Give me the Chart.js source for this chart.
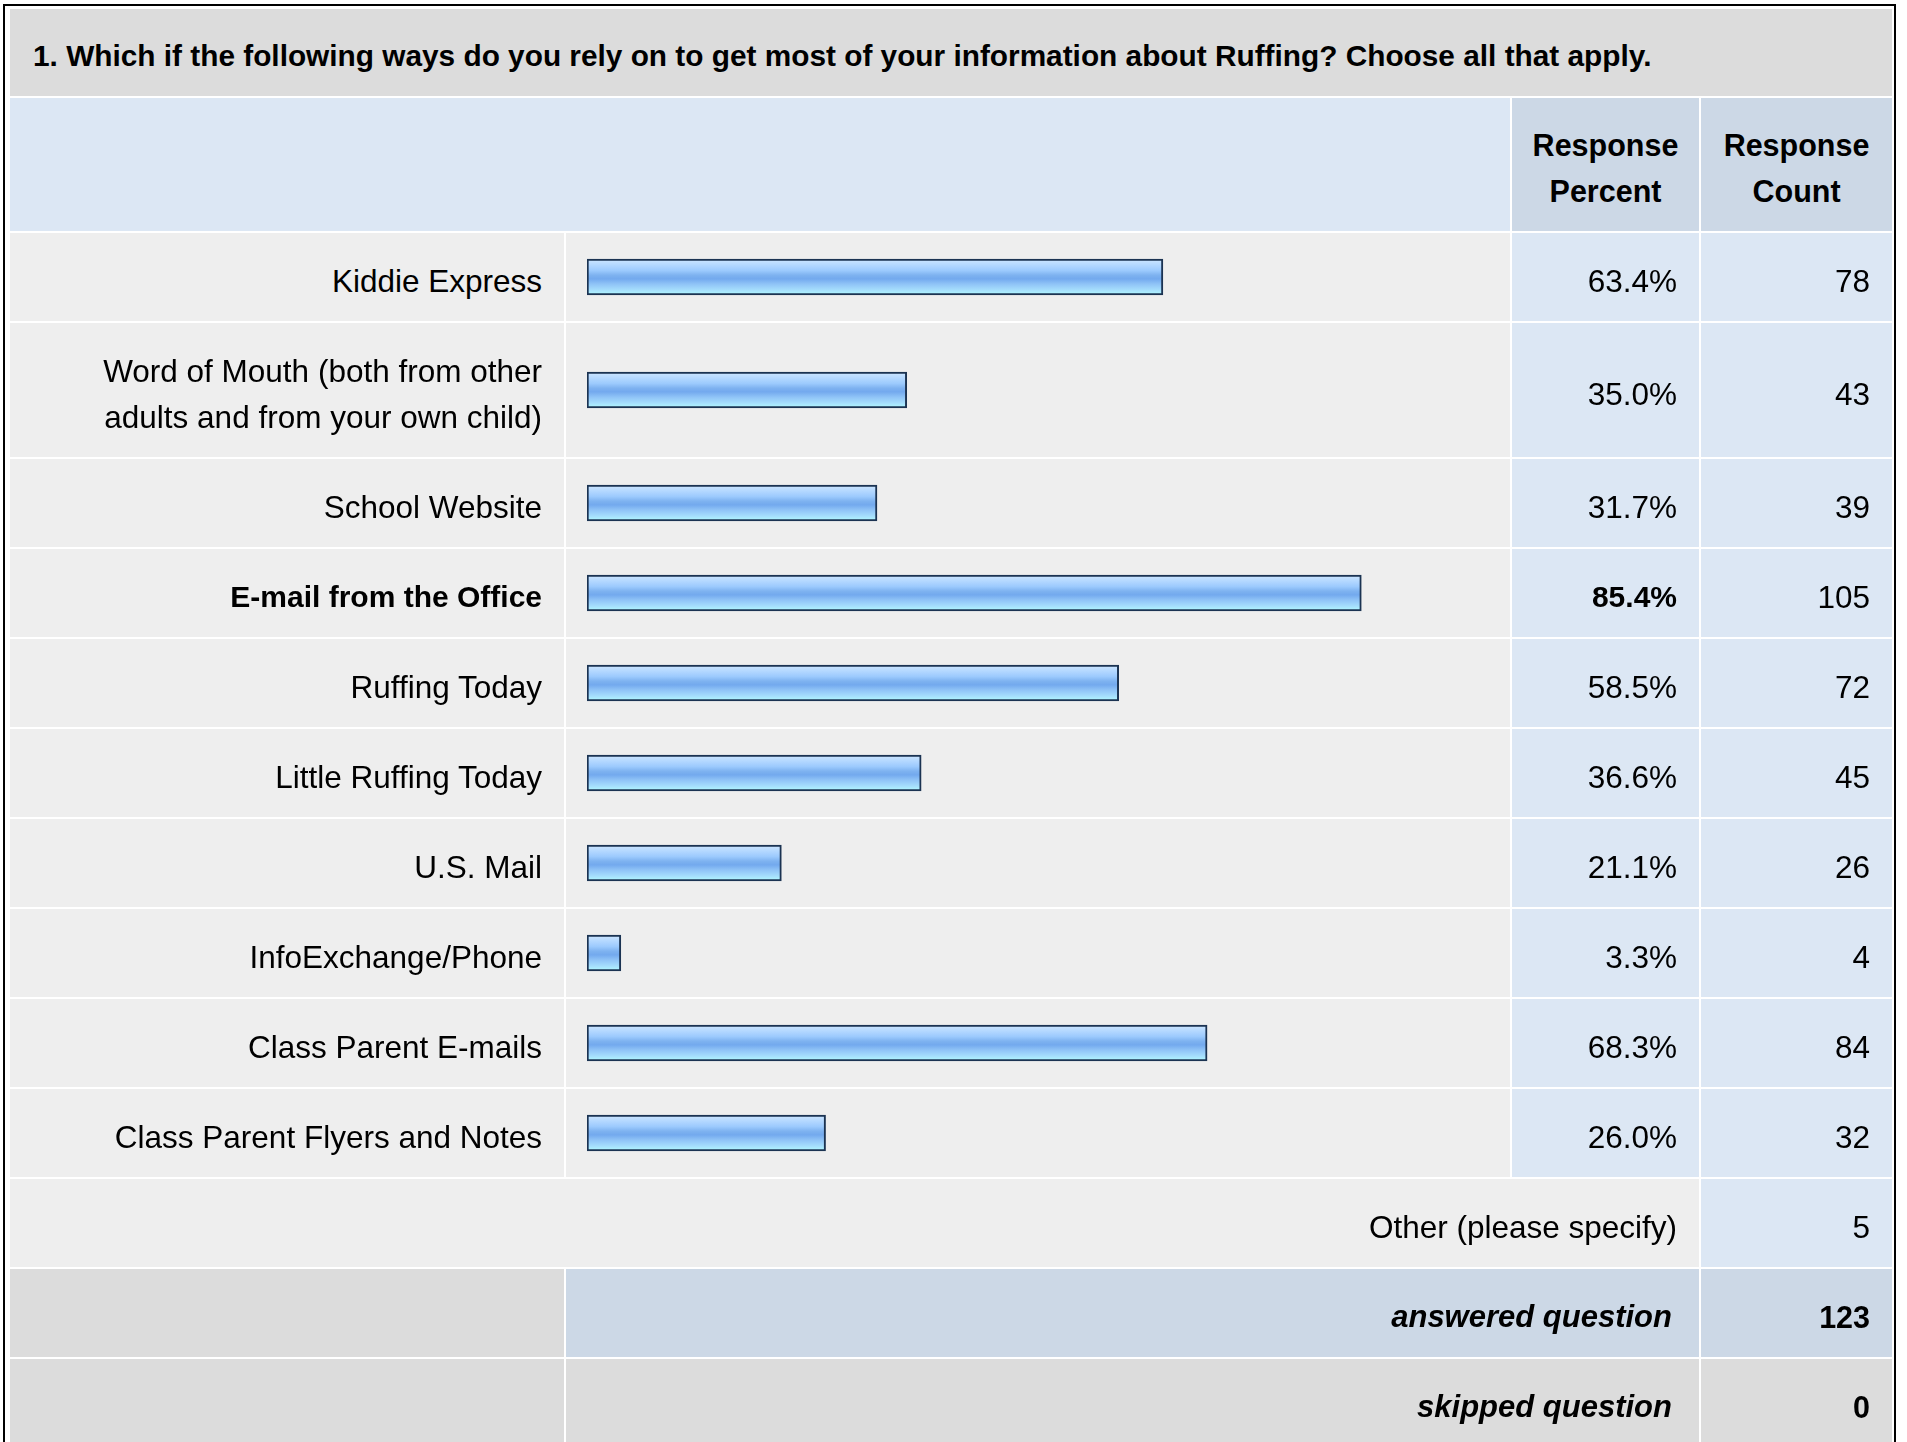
<!DOCTYPE html>
<html>
<head>
<meta charset="utf-8">
<script src="https://cdn.jsdelivr.net/npm/chart.js@4.4.1/dist/chart.umd.min.js"></script>
<style>
  html, body { margin: 0; padding: 0; background: #fff; overflow: hidden; }
  body { width: 1907px; height: 1442px; position: relative; font-family: "Liberation Sans", Arial, sans-serif; color: #000; }
  .frame { position: absolute; left: 3px; top: 4px; width: 1893px; height: 1500px; box-sizing: border-box; border: 2px solid #000; }
  table { position: absolute; left: 8px; top: 7px; width: 1886px; table-layout: fixed; border-collapse: separate; border-spacing: 2px; background: #fff; }
  td { padding: 7px 22px 0 22px; vertical-align: middle; font-size: 31.5px; line-height: 46px; white-space: normal; }
  .title { background: #dcdcdc; height: 87px; font-weight: bold; font-size: 29.8px; padding-left: 23px; text-align: left; box-sizing: border-box; }
  .head { background: #dce7f4; height: 133px; box-sizing: border-box; }
  .headv { background: #ccd8e6; font-weight: bold; font-size: 30.5px; text-align: center; padding: 6px 0 0 0; }
  .lab { background: #eee; text-align: right; box-sizing: border-box; }
  .lab.b { font-weight: bold; font-size: 30px; }
  .bar { background: #eee; padding: 0; }
  .bar canvas { display: block; }
  .val { background: #dce7f4; text-align: right; }
  .val.b { font-weight: bold; font-size: 30px; }
  .gray { background: #dcdcdc; }
  .blue2 { background: #ccd8e6; }
  .tot { font-weight: bold; font-style: italic; font-size: 31px; text-align: right; padding-right: 27px; }
  .totv { font-weight: bold; font-size: 30.5px; text-align: right; }
</style>
</head>
<body>
<div class="frame"></div>
<table id="tbl">
  <colgroup><col style="width:554px"><col style="width:944px"><col style="width:187px"><col style="width:191px"></colgroup>
  <tbody id="body"></tbody>
</table>
<script>
// survey data
const question = "1. Which if the following ways do you rely on to get most of your information about Ruffing? Choose all that apply.";
const categories = [
  "Kiddie Express",
  "Word of Mouth (both from other adults and from your own child)",
  "School Website",
  "E-mail from the Office",
  "Ruffing Today",
  "Little Ruffing Today",
  "U.S. Mail",
  "InfoExchange/Phone",
  "Class Parent E-mails",
  "Class Parent Flyers and Notes"
];
const percents = [63.4, 35.0, 31.7, 85.4, 58.5, 36.6, 21.1, 3.3, 68.3, 26.0];
const counts = [78, 43, 39, 105, 72, 45, 26, 4, 84, 32];
const otherLabel = "Other (please specify)";
const otherCount = 5;
const answered = 123;
const skipped = 0;

const tbody = document.getElementById('body');
const topIdx = percents.indexOf(Math.max(...percents));
const xStart = -0.45; // bars get a small stub even near 0

function addRow(html, h) {
  const tr = document.createElement('tr');
  tr.innerHTML = html;
  if (h) tr.style.height = h + 'px';
  tbody.appendChild(tr);
  return tr;
}

addRow('<td class="title" colspan="4"></td>', 87).firstChild.textContent = question;
addRow('<td class="head" colspan="2"></td><td class="headv">Response<br>Percent</td><td class="headv">Response<br>Count</td>', 133);

// bar fill: light top, darker middle, cyan bottom
function barFill(c) {
  const area = c.chart.chartArea;
  if (!area) return '#8fc0f5';
  const mid = (area.top + area.bottom) / 2;
  const g = c.chart.ctx.createLinearGradient(0, mid - 18, 0, mid + 18);
  g.addColorStop(0, '#cfe7ff');
  g.addColorStop(0.18, '#b2d7ff');
  g.addColorStop(0.32, '#9ccafd');
  g.addColorStop(0.45, '#7eb2f0');
  g.addColorStop(0.55, '#73a9ee');
  g.addColorStop(0.7, '#90c4f7');
  g.addColorStop(0.85, '#a4dcfc');
  g.addColorStop(1, '#b2fbff');
  return g;
}

categories.forEach((cat, i) => {
  const h = i === 1 ? 134 : 88;
  const b = i === topIdx ? ' b' : '';
  const tr = addRow('<td class="lab' + b + '"></td><td class="bar"><canvas></canvas></td><td class="val' + b + '"></td><td class="val"></td>', h);
  tr.children[0].textContent = cat;
  tr.children[2].textContent = percents[i].toFixed(1) + '%';
  tr.children[3].textContent = counts[i];
  const cv = tr.querySelector('canvas');
  cv.width = 944; cv.height = h;
  new Chart(cv, {
    type: 'bar',
    data: {
      labels: [cat],
      datasets: [{
        data: [percents[i]],
        base: xStart,
        backgroundColor: barFill,
        borderColor: '#1b3352',
        borderWidth: 2,
        borderSkipped: false,
        barThickness: 36
      }]
    },
    options: {
      indexAxis: 'y',
      responsive: false,
      animation: false,
      layout: { padding: { left: 21, right: 17, top: 0, bottom: 0 } },
      scales: {
        x: { display: false, min: xStart, max: 100 },
        y: { display: false }
      },
      plugins: { legend: { display: false }, tooltip: { enabled: false } }
    }
  });
});

addRow('<td class="lab" colspan="3"></td><td class="val"></td>', 88);
tbody.lastChild.children[0].textContent = otherLabel;
tbody.lastChild.children[1].textContent = otherCount;

addRow('<td class="gray"></td><td class="blue2 tot" colspan="2">answered question</td><td class="blue2 totv"></td>', 88);
tbody.lastChild.children[2].textContent = answered;
addRow('<td class="gray"></td><td class="gray tot" colspan="2">skipped question</td><td class="gray totv"></td>', 88);
tbody.lastChild.children[2].textContent = skipped;
</script>
</body>
</html>
